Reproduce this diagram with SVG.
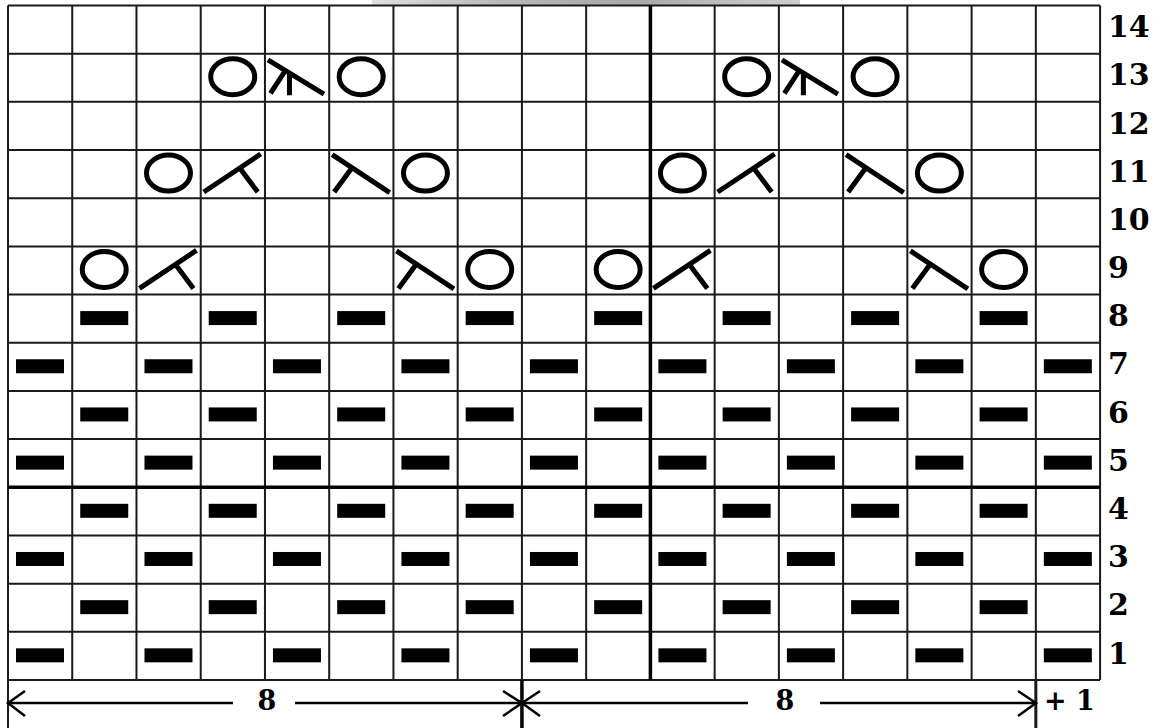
<svg xmlns="http://www.w3.org/2000/svg" xmlns:xlink="http://www.w3.org/1999/xlink" width="1161" height="728" viewBox="0 0 1161 728">
<style>
.g{stroke:#1a1a1a;stroke-width:2;fill:none}
.gt{stroke:#000;stroke-width:3.5;fill:none}
.s{stroke:#000;stroke-width:5;fill:none}
.lbl{font-family:"DejaVu Serif",serif;font-weight:bold;font-size:30px;fill:#000}
.dim{stroke:#000;stroke-width:2.5;fill:none}
</style>
<defs>
<rect id="p" x="8" y="16.5" width="48" height="14" fill="#000"/>
<ellipse id="o" class="s" cx="32" cy="23" rx="22" ry="18"/>
<path id="kl" class="s" d="M3,42 L60,4 M39,18 L57,42"/>
<path id="kr" class="s" d="M3,4.5 L60.5,42.5 M5,42 L23,17.5"/>
<path id="k3" class="s" d="M3,6.3 L59,40.5 M5.5,39.6 L20,17.5 M24.5,20 L24.5,41.5"/>
<linearGradient id="smudge" x1="0" x2="1" y1="0" y2="0">
<stop offset="0" stop-color="#e0e0e0"/><stop offset="0.3" stop-color="#b8b8b8"/><stop offset="0.6" stop-color="#a8a8a8"/><stop offset="1" stop-color="#cfcfcf"/>
</linearGradient>
</defs>
<rect width="1161" height="728" fill="#fff"/>
<rect x="372" y="0" width="428" height="5" fill="url(#smudge)"/>
<g id="grid">
<path class="g" d="M8,5.5V728 M72.24,5.5V680 M136.48,5.5V680 M200.72,5.5V680 M264.96,5.5V680 M329.2,5.5V680 M393.44,5.5V680 M457.68,5.5V680 M521.92,5.5V680 M586.16,5.5V680 M714.64,5.5V680 M778.88,5.5V680 M843.12,5.5V680 M907.36,5.5V680 M971.6,5.5V680 M1035.84,5.5V680 M1100.08,5.5V680"/>
<path class="g" d="M8,5.5H1100 M8,53.68H1100 M8,101.86H1100 M8,150.04H1100 M8,198.22H1100 M8,246.4H1100 M8,294.58H1100 M8,342.76H1100 M8,390.94H1100 M8,439.12H1100 M8,535.48H1100 M8,583.66H1100 M8,631.84H1100 M8,680.02H1100"/>
<path class="gt" d="M650.4,5.5V680 M8,487.3H1100"/>
</g>
<g id="purls">
<g id="row1">
<use href="#p" x="8" y="631.84"/><use href="#p" x="136.48" y="631.84"/><use href="#p" x="264.96" y="631.84"/><use href="#p" x="393.44" y="631.84"/><use href="#p" x="521.92" y="631.84"/><use href="#p" x="650.4" y="631.84"/><use href="#p" x="778.88" y="631.84"/><use href="#p" x="907.36" y="631.84"/><use href="#p" x="1035.84" y="631.84"/>
</g>
<g id="row2">
<use href="#p" x="72.24" y="583.66"/><use href="#p" x="200.72" y="583.66"/><use href="#p" x="329.2" y="583.66"/><use href="#p" x="457.68" y="583.66"/><use href="#p" x="586.16" y="583.66"/><use href="#p" x="714.64" y="583.66"/><use href="#p" x="843.12" y="583.66"/><use href="#p" x="971.6" y="583.66"/>
</g>
<g id="row3">
<use href="#p" x="8" y="535.48"/><use href="#p" x="136.48" y="535.48"/><use href="#p" x="264.96" y="535.48"/><use href="#p" x="393.44" y="535.48"/><use href="#p" x="521.92" y="535.48"/><use href="#p" x="650.4" y="535.48"/><use href="#p" x="778.88" y="535.48"/><use href="#p" x="907.36" y="535.48"/><use href="#p" x="1035.84" y="535.48"/>
</g>
<g id="row4">
<use href="#p" x="72.24" y="487.3"/><use href="#p" x="200.72" y="487.3"/><use href="#p" x="329.2" y="487.3"/><use href="#p" x="457.68" y="487.3"/><use href="#p" x="586.16" y="487.3"/><use href="#p" x="714.64" y="487.3"/><use href="#p" x="843.12" y="487.3"/><use href="#p" x="971.6" y="487.3"/>
</g>
<g id="row5">
<use href="#p" x="8" y="439.12"/><use href="#p" x="136.48" y="439.12"/><use href="#p" x="264.96" y="439.12"/><use href="#p" x="393.44" y="439.12"/><use href="#p" x="521.92" y="439.12"/><use href="#p" x="650.4" y="439.12"/><use href="#p" x="778.88" y="439.12"/><use href="#p" x="907.36" y="439.12"/><use href="#p" x="1035.84" y="439.12"/>
</g>
<g id="row6">
<use href="#p" x="72.24" y="390.94"/><use href="#p" x="200.72" y="390.94"/><use href="#p" x="329.2" y="390.94"/><use href="#p" x="457.68" y="390.94"/><use href="#p" x="586.16" y="390.94"/><use href="#p" x="714.64" y="390.94"/><use href="#p" x="843.12" y="390.94"/><use href="#p" x="971.6" y="390.94"/>
</g>
<g id="row7">
<use href="#p" x="8" y="342.76"/><use href="#p" x="136.48" y="342.76"/><use href="#p" x="264.96" y="342.76"/><use href="#p" x="393.44" y="342.76"/><use href="#p" x="521.92" y="342.76"/><use href="#p" x="650.4" y="342.76"/><use href="#p" x="778.88" y="342.76"/><use href="#p" x="907.36" y="342.76"/><use href="#p" x="1035.84" y="342.76"/>
</g>
<g id="row8">
<use href="#p" x="72.24" y="294.58"/><use href="#p" x="200.72" y="294.58"/><use href="#p" x="329.2" y="294.58"/><use href="#p" x="457.68" y="294.58"/><use href="#p" x="586.16" y="294.58"/><use href="#p" x="714.64" y="294.58"/><use href="#p" x="843.12" y="294.58"/><use href="#p" x="971.6" y="294.58"/>
</g>
</g>
<g id="lace">
<g id="row9">
<use href="#o" x="72.24" y="246.4"/><use href="#kl" x="136.48" y="246.4"/><use href="#kr" x="393.44" y="246.4"/><use href="#o" x="457.68" y="246.4"/>
<use href="#o" x="586.16" y="246.4"/><use href="#kl" x="650.4" y="246.4"/><use href="#kr" x="907.36" y="246.4"/><use href="#o" x="971.6" y="246.4"/>
</g>
<g id="row11">
<use href="#o" x="136.48" y="150.04"/><use href="#kl" x="200.72" y="150.04"/><use href="#kr" x="329.2" y="150.04"/><use href="#o" x="393.44" y="150.04"/>
<use href="#o" x="650.4" y="150.04"/><use href="#kl" x="714.64" y="150.04"/><use href="#kr" x="843.12" y="150.04"/><use href="#o" x="907.36" y="150.04"/>
</g>
<g id="row13">
<use href="#o" x="200.72" y="53.68"/><use href="#k3" x="264.96" y="53.68"/><use href="#o" x="329.2" y="53.68"/>
<use href="#o" x="714.64" y="53.68"/><use href="#k3" x="778.88" y="53.68"/><use href="#o" x="843.12" y="53.68"/>
</g>
</g>
<g id="row-labels">
<text class="lbl" x="1108" y="37">14</text>
<text class="lbl" x="1108" y="85">13</text>
<text class="lbl" x="1108" y="133.5">12</text>
<text class="lbl" x="1108" y="181.5">11</text>
<text class="lbl" x="1108" y="229.5">10</text>
<text class="lbl" x="1108" y="278">9</text>
<text class="lbl" x="1108" y="326">8</text>
<text class="lbl" x="1108" y="374">7</text>
<text class="lbl" x="1108" y="422.5">6</text>
<text class="lbl" x="1108" y="470.5">5</text>
<text class="lbl" x="1108" y="519">4</text>
<text class="lbl" x="1108" y="567">3</text>
<text class="lbl" x="1108" y="615">2</text>
<text class="lbl" x="1108" y="663.5">1</text>
</g>
<g id="connectors">
<path class="gt" d="M521.92,680V728"/>
<path class="g" d="M1035.84,680V728" style="stroke-width:3"/>
<path class="dim" d="M8,703H233 M295,703H522 M522,703H748 M820,703H1036"/>
<path class="dim" d="M25,691L8,703L25,716 M503,691L522,703L503,716 M540,691L522,703L540,716 M1018,691L1036,703L1018,716"/>
<text class="lbl" x="267" y="710" text-anchor="middle" style="font-size:27px">8</text>
<text class="lbl" x="785" y="710" text-anchor="middle" style="font-size:27px">8</text>
<text class="lbl" x="1044" y="710" style="font-size:27px">+ 1</text>
</g>
</svg>
